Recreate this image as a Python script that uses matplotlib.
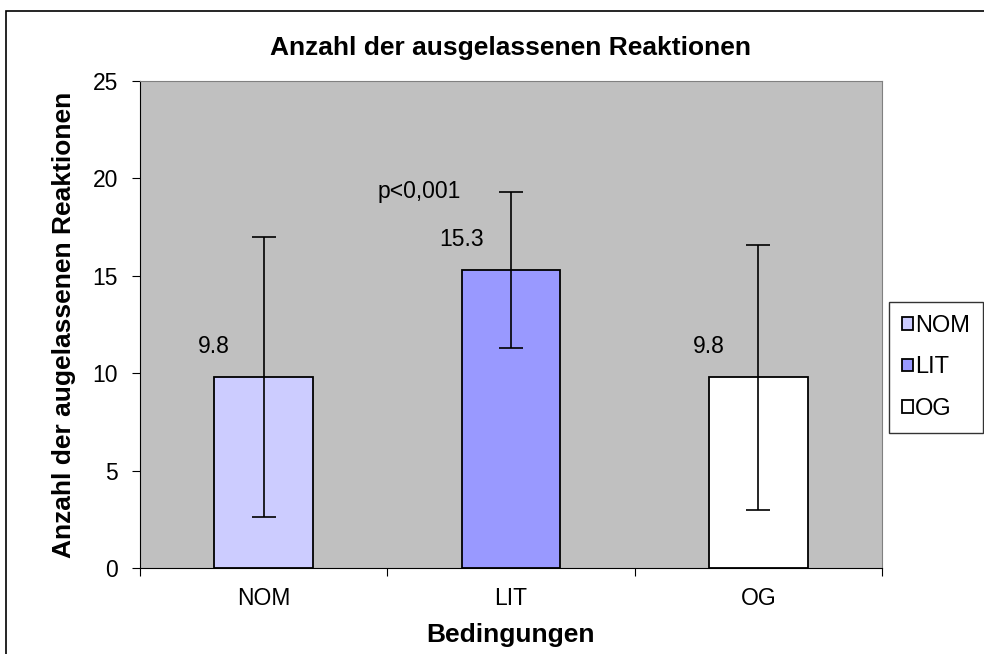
import matplotlib.pyplot as plt
from matplotlib.patches import Rectangle

plt.rcParams['font.family'] = ['Liberation Sans', 'DejaVu Sans']

categories = ['NOM', 'LIT', 'OG']
values = [9.8, 15.3, 9.8]
errors = [7.2, 4.0, 6.8]
labels = ['9.8', '15.3', '9.8']
colors = ['#CCCCFF', '#9999FF', '#FFFFFF']

fig = plt.figure(figsize=(9.84, 6.54), dpi=100)
# outer chart border
fig.patches.append(Rectangle((6 / 984, -0.01), 1.0, 1 - 11 / 654 + 0.01,
                             transform=fig.transFigure, fill=False,
                             edgecolor='black', linewidth=1.2))

ax = fig.add_axes([140 / 984, 1 - 568 / 654, 742 / 984, 487 / 654])
ax.set_facecolor('#C0C0C0')

x = range(len(categories))
bars = ax.bar(x, values, width=0.4, color=colors, edgecolor='black', linewidth=1.3,
              yerr=errors, error_kw=dict(ecolor='black', elinewidth=1.2, capsize=8.5, capthick=1.2))

for i, b in enumerate(bars):
    ax.text(b.get_x(), values[i] + 1.55, labels[i], ha='center', va='center', fontsize=16.5)
ax.text(0.63, 19.35, 'p<0,001', ha='center', va='center', fontsize=16.5)

ax.set_xlim(-0.5, 2.5)
ax.set_ylim(0, 25)
ax.set_yticks([0, 5, 10, 15, 20, 25])
ax.set_xticks([-0.5, 0.5, 1.5, 2.5])
ax.set_xticklabels([])
ax.set_xticks(list(x), minor=True)
ax.set_xticklabels(categories, minor=True, fontsize=16.5)
ax.tick_params(axis='x', which='minor', length=0, pad=14)
ax.tick_params(axis='x', which='major', direction='out', length=6)
ax.tick_params(axis='y', direction='out', length=6, labelsize=16.5, pad=10)

for s in ['top', 'right']:
    ax.spines[s].set_color('#808080')
for s in ['left', 'bottom']:
    ax.spines[s].set_color('black')

ax.set_title('Anzahl der ausgelassenen Reaktionen', fontsize=19, fontweight='bold', pad=19)
ax.set_xlabel('Bedingungen', fontsize=19, fontweight='bold', labelpad=9)
ax.set_ylabel('Anzahl der augelassenen Reaktionen', fontsize=19, fontweight='bold', labelpad=12)

leg = ax.legend(bars, categories, loc='upper left',
                bbox_to_anchor=(889 / 984, 1 - 302 / 654), bbox_transform=fig.transFigure,
                fontsize=17, frameon=True, fancybox=False, edgecolor='black',
                handlelength=0.45, handleheight=0.45, handletextpad=0.1,
                labelspacing=0.82, borderpad=0.55, borderaxespad=0)
leg.get_frame().set_linewidth(1.0)

fig.savefig('out.png', dpi=100)
